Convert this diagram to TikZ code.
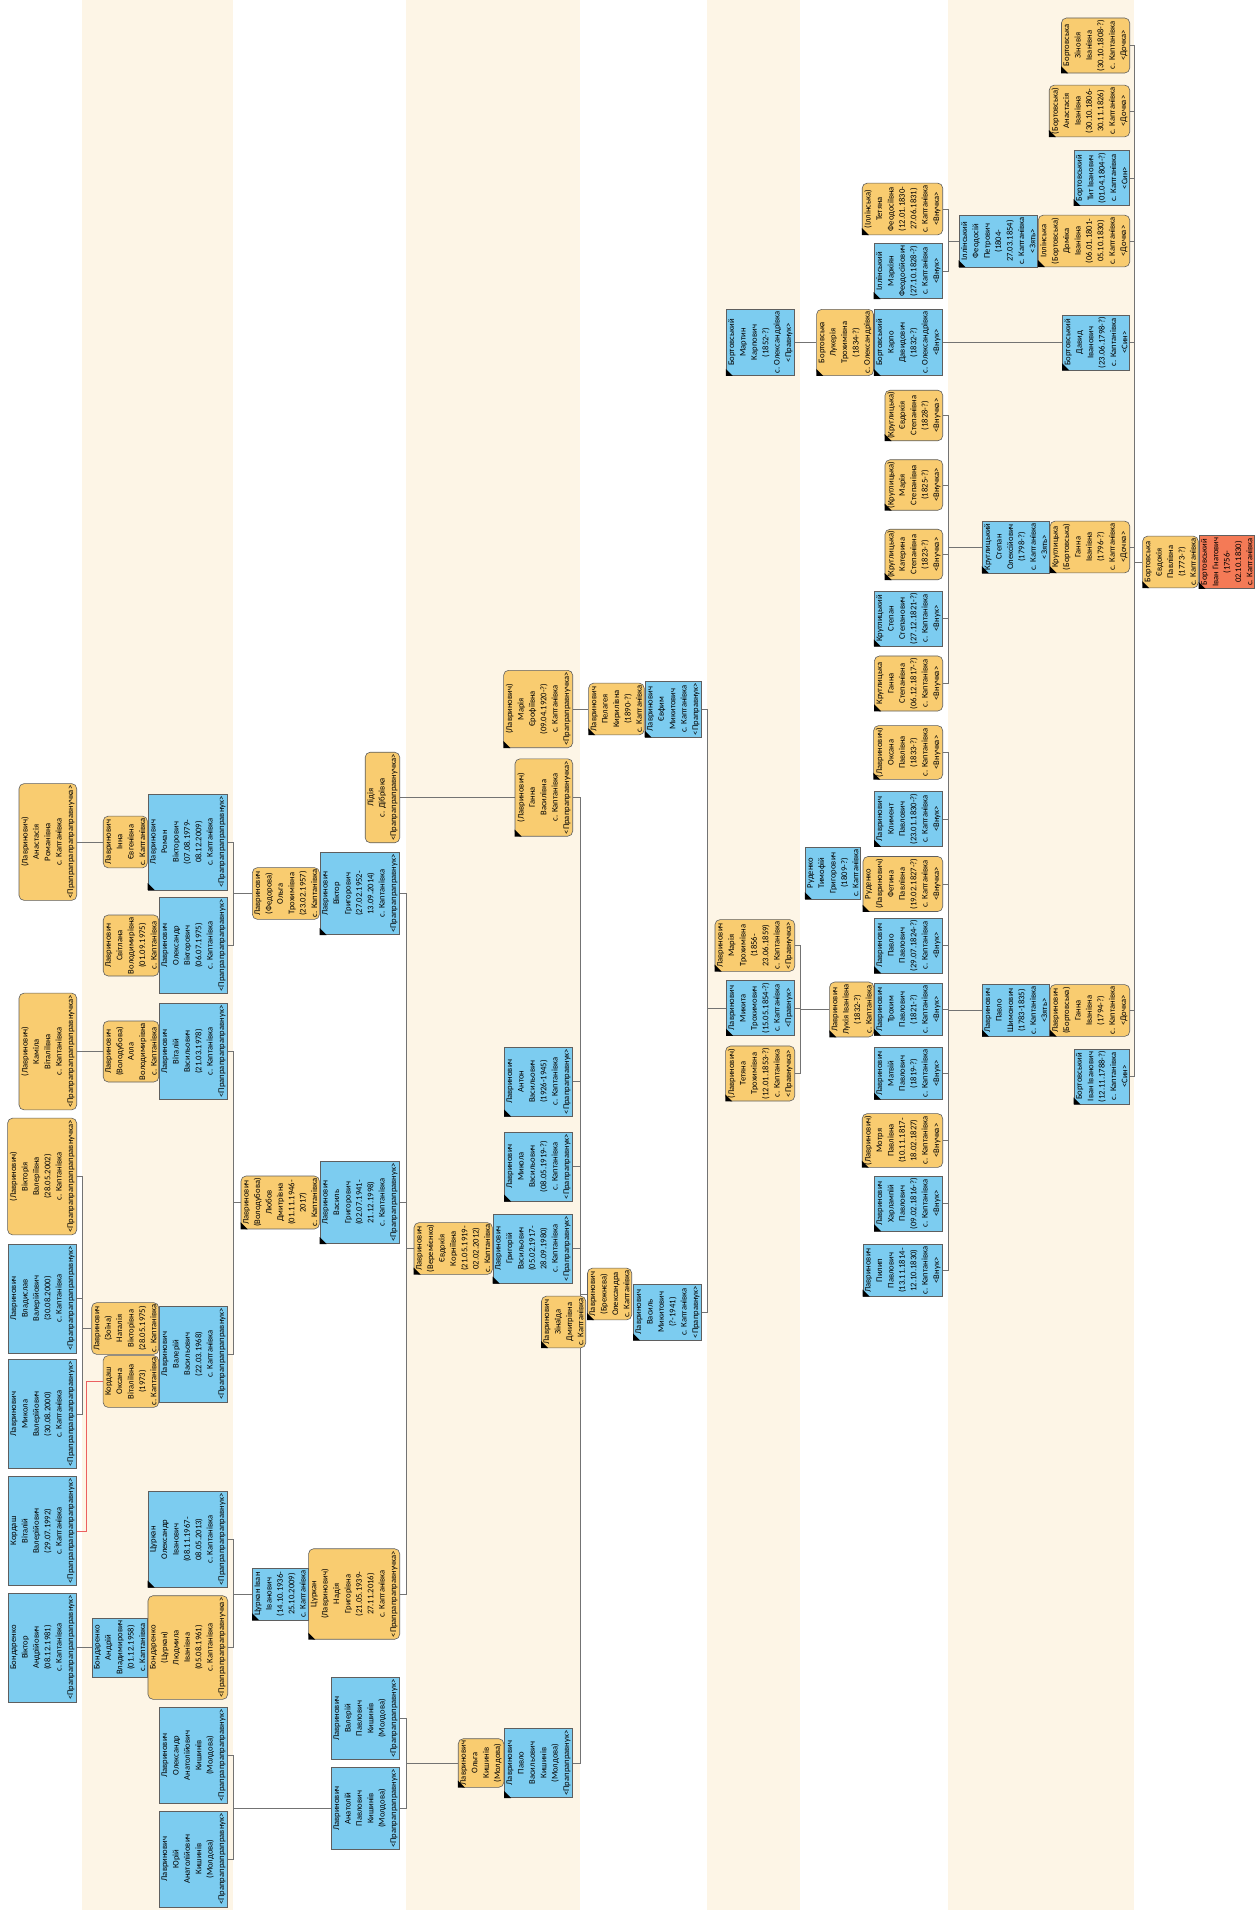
\documentclass[tikz,border=0pt]{standalone}
\usepackage{fontspec}
\setmainfont{Carlito}
\usetikzlibrary{backgrounds}

\definecolor{cream}{RGB}{253,245,230}
\definecolor{boxblue}{RGB}{124,204,240}
\definecolor{boxorange}{RGB}{249,204,112}
\definecolor{boxred}{RGB}{244,122,86}
\definecolor{edge}{RGB}{95,95,95}
\definecolor{lnkgray}{RGB}{115,115,115}
\definecolor{lnkred}{RGB}{236,96,96}

\begin{document}
\begin{tikzpicture}[x=1pt,y=-1pt,
  pbox/.style={draw=edge, line width=0.6pt, rotate=90, align=center,
    font={\fontsize{8.6}{11.4}\selectfont}, inner xsep=2pt, inner ysep=2.2pt},
  man/.style={pbox, fill=boxblue},
  woman/.style={pbox, fill=boxorange, rounded corners=5pt},
  head/.style={pbox, fill=boxred},
  lnk/.style={draw=lnkgray, line width=0.6pt}]

\useasboundingbox (0,0) rectangle (1259,1910);

%% 列
\coordinate (g1) at (82,0);
\coordinate (g2) at (233,0);
\coordinate (g3) at (406,0);
\coordinate (g4) at (580,0);
\coordinate (g5) at (707,0);
\coordinate (g6) at (800,0);
\coordinate (g7) at (948,0);
\coordinate (g8) at (1134,0);

%%% 8
\node[woman, anchor=south] (anast) at (77,842) {(Лавринович)\\Анастасія\\Романівна\\с. Каптанівка\\<Прапрапрапрапраправнучка>};
\node[woman, anchor=south] (kamila) at (77,1051.5) {(Лавринович)\\Каміла\\Віталіївна\\с. Каптанівка\\<Прапрапрапрапраправнучка>};
\node[woman, anchor=south] (viktoria) at (77,1176.5) {(Лавринович)\\Вікторія\\Валеріївна\\(28.05.2002)\\с. Каптанівка\\<Прапрапрапрапраправнучка>};
\node[man, anchor=south] (vladyslav) at (77,1298.5) {Лавринович\\Владислав\\Валерійович\\(30.08.2000)\\с. Каптанівка\\<Прапрапрапрапраправнук>};
\node[man, anchor=south] (mykolaval) at (77,1414) {Лавринович\\Микола\\Валерійович\\(30.08.2000)\\с. Каптанівка\\<Прапрапрапрапраправнук>};
\node[man, anchor=south] (kordash) at (77,1531) {Кордаш\\Віталій\\Валерійович\\(29.07.1992)\\с. Каптанівка\\<Прапрапрапрапраправнук>};
\node[man, anchor=south] (viktorb) at (77,1647.5) {Бондаренко\\Віктор\\Андрійович\\(08.12.1981)\\с. Каптанівка\\<Прапрапрапрапраправнук>};

%%% 7
\node[man, anchor=south] (roman) at (228,842) {Лавринович\\Роман\\Вікторович\\(07.08.1979-\\08.12.2009)\\с. Каптанівка\\<Прапрапрапраправнук>};
\node[woman, anchor=south] (inna) at (roman.north) {Лавринович\\Інна\\Євгенівна\\с. Каптанівка};
\node[man, anchor=south] (olekvik) at (228,945.5) {Лавринович\\Олександр\\Вікторович\\(06.07.1975)\\с. Каптанівка\\<Прапрапрапраправнук>};
\node[woman, anchor=south] (svitlana) at (olekvik.north) {Лавринович\\Світлана\\Володимирівна\\(01.09.1975)\\с. Каптанівка};
\node[man, anchor=south] (vitaliy) at (228,1051.5) {Лавринович\\Віталій\\Васильович\\(21.03.1978)\\с. Каптанівка\\<Прапрапрапраправнук>};
\node[woman, anchor=south] (alla) at (vitaliy.north) {Лавринович\\(Володубова)\\Алла\\Володимирівна\\с. Каптанівка};
\node[man, anchor=south] (valeriy) at (228,1354) {Лавринович\\Валерій\\Васильович\\(22.03.1968)\\с. Каптанівка\\<Прапрапрапраправнук>};
\node[woman, anchor=south] (natalia) at (159,1328.5) {Лавринович\\(Зоїна)\\Наталія\\Вікторівна\\(28.05.1975)\\с. Каптанівка};
\node[woman, anchor=south] (oksanak) at (159,1381.5) {Кордаш\\Оксана\\Віталіївна\\(1973)\\с. Каптанівка};
\node[man, anchor=south] (olektsur) at (228,1539.5) {Цуркан\\Олександр\\Іванович\\(08.11.1967-\\08.05.2013)\\с. Каптанівка\\<Прапрапрапраправнук>};
\node[woman, anchor=south] (ludmyla) at (228,1647.5) {Бондаренко\\(Цуркан)\\Людмила\\Іванівна\\(05.08.1961)\\с. Каптанівка\\<Прапрапрапраправнучка>};
\node[man, anchor=south] (andriy) at (ludmyla.north) {Бондаренко\\Андрій\\Владимирович\\(01.12.1958)\\с. Каптанівка};
\node[man, anchor=south] (olekanat) at (228,1755.5) {Лавринович\\Олександр\\Анатолійович\\Кишинів\\(Молдова)\\<Прапрапрапраправнук>};
\node[man, anchor=south] (yuriy) at (228,1859) {Лавринович\\Юрій\\Анатолійович\\Кишинів\\(Молдова)\\<Прапрапрапраправнук>};

%%% 6
\node[woman, anchor=south] (lidiya) at (400,797.5) {Лідія\\с. Дібрівка\\<Прапрапраправнучка>};
\node[man, anchor=south] (viktorg) at (400,893.5) {Лавринович\\Віктор\\Григорович\\(27.02.1952-\\13.09.2014)\\с. Каптанівка\\<Прапрапраправнук>};
\node[woman, anchor=south] (olgaf) at (viktorg.north) {Лавринович\\(Федорова)\\Ольга\\Трохимівна\\(23.02.1957)\\с. Каптанівка};
\node[man, anchor=south] (vasylg) at (400,1202.5) {Лавринович\\Василь\\Григорович\\(02.07.1941-\\21.12.1998)\\с. Каптанівка\\<Прапрапраправнук>};
\node[woman, anchor=south] (lyubov) at (vasylg.north) {Лавринович\\(Володубова)\\Любов\\Дмитрівна\\(01.11.1946-\\2017)\\с. Каптанівка};
\node[woman, anchor=south] (nadia) at (400,1594) {Цуркан\\(Лавринович)\\Надія\\Григорівна\\(21.05.1939-\\27.11.2016)\\с. Каптанівка\\<Прапрапраправнучка>};
\node[man, anchor=south] (ivanc) at (nadia.north) {Цуркан Іван\\Іванович\\(14.10.1936-\\25.10.2009)\\с. Каптанівка};
\node[man, anchor=south] (valeriyp) at (400,1718.5) {Лавринович\\Валерій\\Павлович\\Кишинів\\(Молдова)\\<Прапрапраправнук>};
\node[man, anchor=south] (anatoliy) at (400,1808.5) {Лавринович\\Анатолій\\Павлович\\Кишинів\\(Молдова)\\<Прапрапраправнук>};

%%% 5
\node[woman, anchor=south] (mariaye) at (573,709) {(Лавринович)\\Марія\\Єрофіївна\\(09.04.1920-?)\\с. Каптанівка\\<Прапраправнучка>};
\node[woman, anchor=south] (hannav) at (573,797.5) {(Лавринович)\\Ганна\\Василівна\\с. Каптанівка\\<Прапраправнучка>};
\node[man, anchor=south] (anton) at (573,1081.5) {Лавринович\\Антон\\Васильович\\(1926-1945)\\с. Каптанівка\\<Прапраправнук>};
\node[man, anchor=south] (mykolav) at (573,1166.5) {Лавринович\\Микола\\Васильович\\(08.05.1919-?)\\с. Каптанівка\\<Прапраправнук>};
\node[man, anchor=south] (hryhoriy) at (573,1248.5) {Лавринович\\Григорій\\Васильович\\(05.02.1917-\\28.09.1980)\\с. Каптанівка\\<Прапраправнук>};
\node[woman, anchor=south] (yevdokiak) at (hryhoriy.north) {Лавринович\\(Веремієнко)\\Євдокія\\Корніївна\\(21.05.1919-\\02.02.2012)\\с. Каптанівка};
\node[man, anchor=south] (pavlov) at (573,1763) {Лавринович\\Павло\\Васильович\\Кишинів\\(Молдова)\\<Прапраправнук>};
\node[woman, anchor=south] (olgak) at (pavlov.north) {Лавринович\\Ольга\\Кишинів\\(Молдова)};

%%% 4
\node[man, anchor=south] (yevfym) at (702,709) {Лавринович\\Євфим\\Микитович\\с. Каптанівка\\<Праправнук>};
\node[woman, anchor=south] (pelageya) at (yevfym.north) {Лавринович\\Пелагея\\Кирилівна\\(1890-?)\\с. Каптанівка};
\node[man, anchor=south] (vasylm) at (702,1312) {Лавринович\\Василь\\Микитович\\(?-1941)\\с. Каптанівка\\<Праправнук>};
\node[woman, anchor=south] (oleksandra) at (632,1294) {Лавринович\\(Брежнєва)\\Олександра\\с. Каптанівка};
\node[woman, anchor=south] (zinaida) at (586,1322) {Лавринович\\Зінаїда\\Дмитрівна\\с. Каптанівка};

%%% 3
\node[man, anchor=south] (martyn) at (795,342.5) {Бортовський\\Мартин\\Карпович\\(1852-?)\\с. Олександрівка\\<Правнук>};
\node[woman, anchor=south] (mariat) at (795,945.5) {Лавринович\\Марія\\Трохимівна\\(1856-\\23.06.1859)\\с. Каптанівка\\<Правнучка>};
\node[man, anchor=south] (mykyta) at (795,1008) {Лавринович\\Микита\\Трохимович\\(15.05.1854-?)\\с. Каптанівка\\<Правнук>};
\node[woman, anchor=south] (tetyanat) at (795,1073.5) {(Лавринович)\\Тетяна\\Трохимівна\\(12.01.1853-?)\\с. Каптанівка\\<Правнучка>};

%%% 2
\node[woman, anchor=south] (tetyanai) at (943,209) {(Іллінська)\\Тетяна\\Феодосіївна\\(12.01.1830-\\27.06.1831)\\с. Каптанівка\\<Внучка>};
\node[man, anchor=south] (markiyan) at (943,271) {Іллінський\\Маркіян\\Феодосійович\\(27.10.1828-?)\\с. Каптанівка\\<Внук>};
\node[man, anchor=south] (karpo) at (943,342.5) {Бортовський\\Карпо\\Давидович\\(1832-?)\\с. Олександрівка\\<Внук>};
\node[woman, anchor=south] (lukeriya) at (karpo.north) {Бортовська\\Лукерія\\Трохимівна\\(1834-?)\\с. Олександрівка};
\node[woman, anchor=south] (yevdokias) at (943,415.5) {(Круглицька)\\Євдокія\\Степанівна\\(1828-?)\\<Внучка>};
\node[woman, anchor=south] (mariyas) at (943,485) {(Круглицька)\\Марія\\Степанівна\\(1825-?)\\<Внучка>};
\node[woman, anchor=south] (katerynas) at (943,554.5) {(Круглицька)\\Катерина\\Степанівна\\(1823-?)\\<Внучка>};
\node[man, anchor=south] (stepans) at (943,618.5) {Круглицький\\Степан\\Степанович\\(27.12.1821-?)\\с. Каптанівка\\<Внук>};
\node[woman, anchor=south] (hannas) at (943,683.5) {Круглицька\\Ганна\\Степанівна\\(06.12.1817-?)\\с. Каптанівка\\<Внучка>};
\node[woman, anchor=south] (oksanap) at (943,752.5) {(Лавринович)\\Оксана\\Павлівна\\(1833-?)\\с. Каптанівка\\<Внучка>};
\node[man, anchor=south] (klyment) at (943,819) {Лавринович\\Климент\\Павлович\\(23.01.1830-?)\\с. Каптанівка\\<Внук>};
\node[woman, anchor=south] (fetyna) at (943,884) {Руденко\\(Лавринович)\\Фетина\\Павлівна\\(19.02.1827-?)\\с. Каптанівка\\<Внучка>};
\node[man, anchor=south] (rudenko) at (861,873) {Руденко\\Тимофій\\Григорович\\(1809-?)\\с. Каптанівка};
\node[man, anchor=south] (pavlop) at (943,945.5) {Лавринович\\Павло\\Павлович\\(29.07.1824-?)\\с. Каптанівка\\<Внук>};
\node[man, anchor=south] (trokhym) at (943,1009.5) {Лавринович\\Трохим\\Павлович\\(1821-?)\\с. Каптанівка\\<Внук>};
\node[woman, anchor=south] (lukiya) at (trokhym.north) {Лавринович\\Лукія Іванівна\\(1832-?)\\с. Каптанівка};
\node[man, anchor=south] (matviy) at (943,1073.5) {Лавринович\\Матвій\\Павлович\\(1819-?)\\с. Каптанівка\\<Внук>};
\node[woman, anchor=south] (motrya) at (943,1140.5) {(Лавринович)\\Мотря\\Павлівна\\(10.11.1817-\\18.02.1827)\\с. Каптанівка\\<Внучка>};
\node[man, anchor=south] (kharlampiy) at (943,1203.5) {Лавринович\\Харлампій\\Павлович\\(09.02.1816-?)\\с. Каптанівка\\<Внук>};
\node[man, anchor=south] (pylyp) at (943,1270.5) {Лавринович\\Пилип\\Павлович\\(13.11.1814-\\12.10.1830)\\с. Каптанівка\\<Внук>};

%%% 1
\node[woman, anchor=south] (zinoviya) at (1130,45.5) {Бортовська\\Зіновія\\Іванівна\\(30.10.1808-?)\\с. Каптанівка\\<Дочка>};
\node[woman, anchor=south] (anastasiya) at (1130,111) {(Бортовська)\\Анастасія\\Іванівна\\(30.10.1806-\\30.11.1826)\\с. Каптанівка\\<Дочка>};
\node[man, anchor=south] (tyt) at (1130,178) {Бортовський\\Тит Іванович\\(01.04.1804-?)\\с. Каптанівка\\<Син>};
\node[woman, anchor=south] (domika) at (1130,241) {Іллінська\\(Бортовська)\\Доміка\\Іванівна\\(06.01.1801-\\05.10.1830)\\с. Каптанівка\\<Дочка>};
\node[man, anchor=south] (feodosiy) at (domika.north) {Іллінський\\Феодосій\\Петрович\\(1804-\\27.03.1854)\\с. Каптанівка\\<Зять>};
\node[man, anchor=south] (davyd) at (1130,342.5) {Бортовський\\Давид\\Іванович\\(23.06.1798-?)\\с. Каптанівка\\<Син>};
\node[woman, anchor=south] (hannak) at (1130,547) {Круглицька\\(Бортовська)\\Ганна\\Іванівна\\(1796-?)\\с. Каптанівка\\<Дочка>};
\node[man, anchor=south] (stepano) at (hannak.north) {Круглицький\\Степан\\Олексійович\\(1798-?)\\с. Каптанівка\\<Зять>};
\node[woman, anchor=south] (hannal) at (1130,1010.5) {Лавринович\\(Бортовська)\\Ганна\\Іванівна\\(1794-?)\\с. Каптанівка\\<Дочка>};
\node[man, anchor=south] (pavlos) at (hannal.north) {Лавринович\\Павло\\Шимонович\\(1783-1835)\\с. Каптанівка\\<Зять>};
\node[man, anchor=south] (ivani) at (1130,1076.5) {Бортовський\\Іван Іванович\\(12.11.1788-?)\\с. Каптанівка\\<Син>};

%%% 0
\node[head, anchor=south] (root) at (1255,562) {Бортовський\\Іван Гнатович\\(1756-\\02.10.1830)\\с. Каптанівка};
\node[woman, anchor=south] (yevdokiap) at (root.north) {Бортовська\\Євдокія\\Павлівна\\(1773-?)\\с. Каптанівка};

%% траур
\foreach \n in {roman,olektsur,viktorg,lyubov,vasylg,ivanc,nadia,mariaye,hannav,anton,mykolav,
  yevdokiak,hryhoriy,olgak,pavlov,pelageya,yevfym,zinaida,oleksandra,vasylm,martyn,mariat,mykyta,
  tetyanat,tetyanai,markiyan,lukeriya,karpo,yevdokias,mariyas,katerynas,stepans,hannas,oksanap,
  klyment,rudenko,fetyna,pavlop,lukiya,trokhym,matviy,motrya,kharlampiy,pylyp,zinoviya,anastasiya,
  tyt,feodosiy,domika,davyd,stepano,hannak,pavlos,hannal,ivani,root,yevdokiap}
  \fill (\n.north west) -- ++(0,-7) -- ++(7,7) -- cycle;

\begin{scope}[on background layer]
%% 背景
\fill[white] (0,0) rectangle (1259,1910);
\fill[cream] (82,0) rectangle (233,1910);
\fill[cream] (406,0) rectangle (580,1910);
\fill[cream] (707,0) rectangle (800,1910);
\fill[cream] (948,0) rectangle (1134,1910);

%% 線
\draw[lnk] (anast.south) -- (inna.north);
\draw[lnk] (kamila.south) -- (alla.north);
\draw[lnk] (viktorb.south) -- (andriy.north);
\draw[lnk] (viktoria.south) -| (g1 |- natalia.north) -- (natalia.north);
\draw[lnk] (vladyslav.south) -| (g1 |- natalia.north);
\draw[lnk] (mykolaval.south) -| (g1 |- natalia.north);
\draw[draw=lnkred, line width=0.8pt] (kordash.south) -- ++(9,0) |- (oksanak.north);

\draw[lnk] (roman.south) -| (g2 |- olgaf.north) -- (olgaf.north);
\draw[lnk] (olekvik.south) -| (g2 |- olgaf.north);
\draw[lnk] (vitaliy.south) -| (g2 |- lyubov.north) -- (lyubov.north);
\draw[lnk] (valeriy.south) -| (g2 |- lyubov.north);
\draw[lnk] (olektsur.south) -| (g2 |- ivanc.north) -- (ivanc.north);
\draw[lnk] (ludmyla.south) -| (g2 |- ivanc.north);
\draw[lnk] (olekanat.south) -| (g2 |- anatoliy.north) -- (anatoliy.north);
\draw[lnk] (yuriy.south) -| (g2 |- anatoliy.north);

\draw[lnk] (lidiya.south) -- (hannav.north);
\draw[lnk] (viktorg.south) -| (g3 |- yevdokiak.north) -- (yevdokiak.north);
\draw[lnk] (vasylg.south) -| (g3 |- yevdokiak.north);
\draw[lnk] (nadia.south) -| (g3 |- yevdokiak.north);
\draw[lnk] (valeriyp.south) -| (g3 |- olgak.north) -- (olgak.north);
\draw[lnk] (anatoliy.south) -| (g3 |- olgak.north);

\draw[lnk] (mariaye.south) -- (pelageya.north);
\draw[lnk] (hannav.south) -| (g4 |- oleksandra.north) -- (oleksandra.north);
\draw[lnk] (anton.south) -| (g4 |- oleksandra.north);
\draw[lnk] (mykolav.south) -| (g4 |- oleksandra.north);
\draw[lnk] (hryhoriy.south) -| (g4 |- oleksandra.north);
\draw[lnk] (pavlov.south) -| (g4 |- oleksandra.north);

\draw[lnk] (yevfym.south) -| (g5 |- mykyta.north) -- (mykyta.north);
\draw[lnk] (vasylm.south) -| (g5 |- mykyta.north);

\draw[lnk] (martyn.south) -- (lukeriya.north);
\draw[lnk] (mariat.south) -| (g6 |- lukiya.north) -- (lukiya.north);
\draw[lnk] (mykyta.south) -| (g6 |- lukiya.north);
\draw[lnk] (tetyanat.south) -| (g6 |- lukiya.north);

\draw[lnk] (tetyanai.south) -| (g7 |- feodosiy.north) -- (feodosiy.north);
\draw[lnk] (markiyan.south) -| (g7 |- feodosiy.north);
\draw[lnk] (karpo.south) -- (davyd.north);
\draw[lnk] (yevdokias.south) -| (g7 |- stepano.north) -- (stepano.north);
\draw[lnk] (mariyas.south) -| (g7 |- stepano.north);
\draw[lnk] (katerynas.south) -| (g7 |- stepano.north);
\draw[lnk] (stepans.south) -| (g7 |- stepano.north);
\draw[lnk] (hannas.south) -| (g7 |- stepano.north);
\draw[lnk] (oksanap.south) -| (g7 |- pavlos.north) -- (pavlos.north);
\draw[lnk] (klyment.south) -| (g7 |- pavlos.north);
\draw[lnk] (fetyna.south) -| (g7 |- pavlos.north);
\draw[lnk] (pavlop.south) -| (g7 |- pavlos.north);
\draw[lnk] (trokhym.south) -| (g7 |- pavlos.north);
\draw[lnk] (matviy.south) -| (g7 |- pavlos.north);
\draw[lnk] (motrya.south) -| (g7 |- pavlos.north);
\draw[lnk] (kharlampiy.south) -| (g7 |- pavlos.north);
\draw[lnk] (pylyp.south) -| (g7 |- pavlos.north);

\draw[lnk] (zinoviya.south) -| (g8 |- yevdokiap.north) -- (yevdokiap.north);
\draw[lnk] (anastasiya.south) -| (g8 |- yevdokiap.north);
\draw[lnk] (tyt.south) -| (g8 |- yevdokiap.north);
\draw[lnk] (domika.south) -| (g8 |- yevdokiap.north);
\draw[lnk] (davyd.south) -| (g8 |- yevdokiap.north);
\draw[lnk] (hannak.south) -| (g8 |- yevdokiap.north);
\draw[lnk] (hannal.south) -| (g8 |- yevdokiap.north);
\draw[lnk] (ivani.south) -| (g8 |- yevdokiap.north);
\end{scope}

\end{tikzpicture}
\end{document}
